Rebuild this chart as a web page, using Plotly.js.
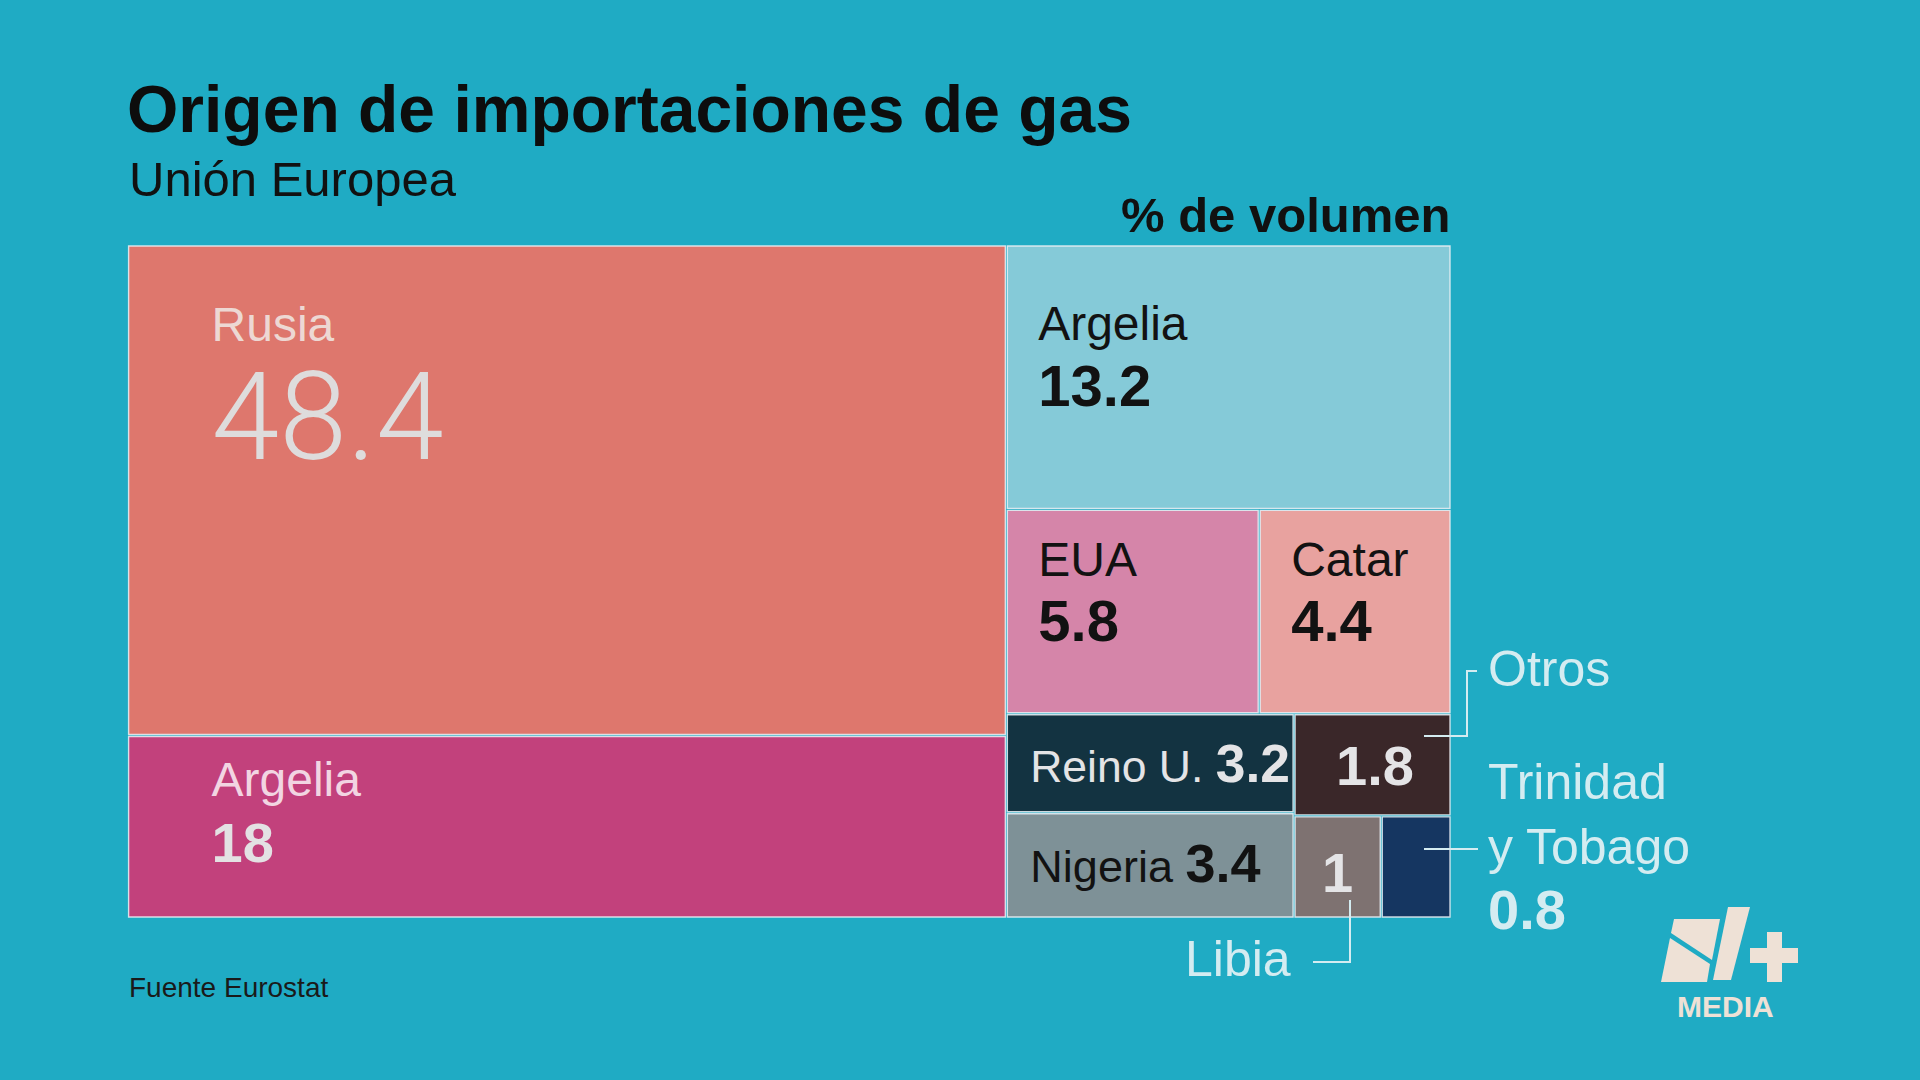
<!DOCTYPE html>
<html><head><meta charset="utf-8">
<script src="https://cdn.plot.ly/plotly-3.0.1.min.js"></script>
<style>html,body{margin:0;padding:0;background:#1FABC4;} #chart{width:1920px;height:1080px;}</style>
</head><body><div id="chart"></div>
<script>
// ---------- DATA ----------
const countries = ['Rusia', 'Argelia', 'Argelia', 'EUA', 'Catar', 'Reino U.', 'Otros', 'Nigeria', 'Libia', 'Trinidad y Tobago'];
const shares    = [48.4, 18, 13.2, 5.8, 4.4, 3.2, 1.8, 3.4, 1, 0.8];
const leafIds   = ['rusia', 'argelia18', 'argelia13', 'eua', 'catar', 'reino', 'otros', 'nigeria', 'libia', 'trinidad'];

// hierarchy used only to arrange the tiles (slice-dice layout)
const nodeIds     = ['root', 'colL', 'rusia', 'argelia18', 'colR', 'argelia13', 'rowR2', 'eua', 'catar', 'rowR3', 'colR3a', 'reino', 'nigeria', 'colR3b', 'otros', 'rowR3b2', 'libia', 'trinidad'];
const nodeParents = ['', 'root', 'colL', 'colL', 'root', 'colR', 'colR', 'rowR2', 'rowR2', 'colR', 'rowR3', 'colR3a', 'colR3a', 'rowR3', 'colR3b', 'colR3b', 'rowR3b2', 'rowR3b2'];

// ---------- STYLES ----------
const leafColors = ['#DE776D', '#C2417C', '#85CAD8', '#D585A9', '#E8A29F', '#133341', '#3A2729', '#7E9197', '#7E7271', '#153661'];
const DARK = '#121212', LIGHT = '#E4E4E6';
// mode: two = label over value, one = label + value on one line, num = value only
const leafStyle = {
  rusia:     {mode: 'two', I: 80, A: 102, B: 91, L: 48, N: 122, lc: '#EDD8D3', nc: '#DEDCDC', light: true},
  argelia18: {mode: 'two', I: 80, A: 62,  B: 51, L: 48, N: 56,  lc: '#F2D5E2', nc: '#E3E1E3'},
  argelia13: {mode: 'two', I: 28, A: 100, B: 51, L: 48, N: 58,  lc: DARK, nc: DARK},
  eua:       {mode: 'two', I: 28, A: 70,  B: 50, L: 48, N: 58,  lc: DARK, nc: DARK},
  catar:     {mode: 'two', I: 28, A: 70,  B: 50, L: 48, N: 58,  lc: DARK, nc: DARK},
  reino:     {mode: 'one', I: 20, A: 72,  B: 50, L: 45, N: 54,  lc: LIGHT, nc: LIGHT},
  otros:     {mode: 'num', I: 38, A: 74,  B: 50, N: 56, nc: LIGHT},
  nigeria:   {mode: 'one', I: 20, A: 72,  B: 50, L: 45, N: 54,  lc: DARK, nc: DARK},
  libia:     {mode: 'num', I: 24, A: 80,  B: 50, N: 56, nc: LIGHT},
  trinidad:  {mode: 'none', B: 20}
};
const NBSP = '\u00a0';
const SPW = 0.278; // advance of a space in Liberation Sans (em)
function spaces(px, maxSize) {
  if (px <= 0.5) return '';
  const k = Math.max(1, Math.ceil(px / (SPW * maxSize)));
  const s = px / (SPW * k);
  return '<span style="font-size:' + s.toFixed(2) + 'px">' + NBSP.repeat(k) + '</span>';
}
function firstIndent(I, A) {
  const w = SPW * A;
  return '<span style="font-size:' + A + 'px">' + NBSP + '</span>' + spaces(I - w, A);
}
function labelSpan(txt, st) {
  return '<span style="font-size:' + st.L + 'px;color:' + st.lc + '">' + txt + '</span>';
}
function numSpan(txt, st) {
  if (st.light) {
    return '<span style="font-size:' + st.N + 'px;color:' + st.nc + ';font-family:Roboto;font-weight:300">' + txt + '</span>';
  }
  return '<span style="font-size:' + st.N + 'px;color:' + st.nc + ';font-weight:bold">' + txt + '</span>';
}
function cellText(k) {
  const st = leafStyle[leafIds[k]];
  const name = countries[k], val = String(shares[k]);
  if (st.mode === 'two') {
    return firstIndent(st.I, st.A) + labelSpan(name, st) + '<br>' + spaces(st.I, Math.min(st.N, 90)) + numSpan(val, st);
  }
  if (st.mode === 'one') {
    return firstIndent(st.I, st.A) + labelSpan(name + NBSP, st) + numSpan(val, st);
  }
  if (st.mode === 'num') {
    return firstIndent(st.I, st.A) + numSpan(val, st);
  }
  return '';
}

// ---------- BUILD TRACE ----------
const labels = [], values = [], colors = [], texts = [], sizes = [], lineW = [], lineC = [];
nodeIds.forEach(function (id) {
  const k = leafIds.indexOf(id);
  if (k >= 0) {
    labels.push(countries[k]);
    values.push(shares[k]);
    colors.push(leafColors[k]);
    texts.push(cellText(k));
    sizes.push(leafStyle[id].B);
    lineW.push(1.4);
    lineC.push('rgba(236,240,244,0.85)');
  } else {
    labels.push(id);
    values.push(0);
    colors.push('rgba(0,0,0,0)');
    texts.push('');
    sizes.push(10);
    lineW.push(0);
    lineC.push('rgba(0,0,0,0)');
  }
});

const W = 1920, H = 1080;
const px = function (x) { return x / W; };
const py = function (y) { return 1 - y / H; };

const trace = {
  type: 'treemap',
  ids: nodeIds,
  labels: labels,
  parents: nodeParents,
  values: values,
  branchvalues: 'remainder',
  sort: false,
  text: texts,
  textinfo: 'text',
  textposition: 'top left',
  textfont: {family: 'Liberation Sans, Arial, sans-serif', size: sizes, color: DARK},
  tiling: {packing: 'slice-dice', pad: 2},
  marker: {
    colors: colors,
    line: {width: lineW, color: lineC},
    pad: {t: 0, l: 0, r: 0, b: 0},
    depthfade: false
  },
  root: {color: 'rgba(0,0,0,0)'},
  pathbar: {visible: false},
  hoverinfo: 'skip',
  domain: {x: [px(128.6), px(1450)], y: [py(917), py(246)]}
};

const annoColor = '#D4ECF1';
const FONT = 'Liberation Sans, Arial, sans-serif';
const annotations = [
  {text: 'Unión Europea', x: px(127), y: py(179), xanchor: 'left', yanchor: 'middle', font: {family: FONT, size: 49, color: '#111'}},
  {text: '<b>% de volumen</b>', x: px(1452), y: py(215), xanchor: 'right', yanchor: 'middle', font: {family: FONT, size: 49, color: '#111'}},
  {text: 'Fuente Eurostat', x: px(127), y: py(987), xanchor: 'left', yanchor: 'middle', font: {family: FONT, size: 28, color: '#1a1a1a'}},
  {text: 'Otros', x: px(1486), y: py(669), xanchor: 'left', yanchor: 'middle', font: {family: FONT, size: 50, color: annoColor}},
  {text: 'Trinidad<br>y Tobago<br><b><span style="font-size:56px">0.8</span></b>', x: px(1486), y: py(752), xanchor: 'left', yanchor: 'top', align: 'left', font: {family: FONT, size: 50, color: annoColor}},
  {text: 'Libia', x: px(1183), y: py(959), xanchor: 'left', yanchor: 'middle', font: {family: FONT, size: 50, color: annoColor}},
  {text: '<b>MEDIA</b>', x: px(1725), y: py(1006), xanchor: 'center', yanchor: 'middle', font: {family: 'Liberation Sans Narrow, Liberation Sans, Arial', size: 30, color: '#EEE1D6'}}
].map(function (a) { return Object.assign({xref: 'paper', yref: 'paper', showarrow: false}, a); });

function path(pts, close) {
  return pts.map(function (p, i) { return (i ? 'L' : 'M') + px(p[0]) + ',' + py(p[1]); }).join(' ') + (close ? ' Z' : '');
}
const lineStyle = {color: annoColor, width: 2};
const cream = '#EEE1D6';
const shapes = [
  {type: 'path', path: path([[1424, 736], [1467, 736], [1467, 671], [1477, 671]]), line: lineStyle},
  {type: 'path', path: path([[1424, 849], [1478, 849]]), line: lineStyle},
  {type: 'path', path: path([[1350, 900], [1350, 962], [1313, 962]]), line: lineStyle},
  // logo
  {type: 'path', path: path([[1674, 919], [1720, 919], [1712, 960], [1671, 933]], true), fillcolor: cream, line: {width: 0}},
  {type: 'path', path: path([[1670, 938], [1710, 964], [1707, 982], [1661, 982]], true), fillcolor: cream, line: {width: 0}},
  {type: 'path', path: path([[1728, 907], [1750, 907], [1731, 980], [1713, 980]], true), fillcolor: cream, line: {width: 0}},
  {type: 'path', path: path([[1767, 932], [1782, 932], [1782, 982], [1767, 982]], true), fillcolor: cream, line: {width: 0}},
  {type: 'path', path: path([[1750, 948], [1798, 948], [1798, 963], [1750, 963]], true), fillcolor: cream, line: {width: 0}}
].map(function (s) { return Object.assign({xref: 'paper', yref: 'paper', layer: 'above'}, s); });

const layout = {
  width: W, height: H,
  margin: {l: 0, r: 0, t: 0, b: 0},
  paper_bgcolor: '#1FABC4',
  plot_bgcolor: '#1FABC4',
  title: {
    text: '<b>Origen de importaciones de gas</b>',
    font: {family: FONT, size: 66, color: '#0d0d0d'},
    x: px(127), xref: 'paper', xanchor: 'left',
    y: py(109), yref: 'container', yanchor: 'middle'
  },
  annotations: annotations,
  shapes: shapes,
  showlegend: false
};

Plotly.newPlot('chart', [trace], layout, {displayModeBar: false, staticPlot: true});
</script>
</body></html>
